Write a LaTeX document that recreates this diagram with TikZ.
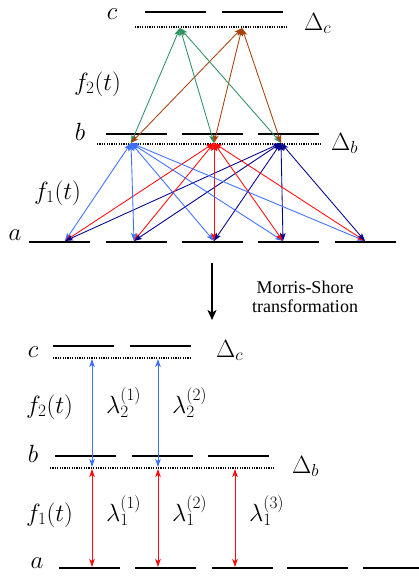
\documentclass[tikz,border=0pt]{standalone}
\usepackage{fontspec}
\newfontfamily\tms{Liberation Serif}
\usetikzlibrary{arrows.meta}
\definecolor{lblue}{RGB}{60,110,255}
\definecolor{mred}{RGB}{255,10,10}
\definecolor{mnavy}{RGB}{0,0,140}
\definecolor{mgreen}{RGB}{46,145,95}
\definecolor{mbrown}{RGB}{165,65,10}
\begin{document}
\begin{tikzpicture}[x=1pt,y=-1pt,
  level/.style={line width=1.6pt},
  dotlev/.style={line width=1.2pt,dash pattern=on 1.2pt off 1.2pt},
  trans/.style={line width=0.85pt,{Stealth[length=8pt,width=5.5pt,inset=2pt]}-{Stealth[length=8pt,width=5.5pt,inset=2pt]}},
  lab/.style={inner sep=0pt,font=\fontsize{26}{28}\selectfont},
  small/.style={inner sep=0pt,font=\tms\fontsize{18}{20}\selectfont,align=center}]
\useasboundingbox (0,0) rectangle (419,576);
% ---------- top: levels
\draw[level] (145,12) -- (206,12);
\draw[level] (222,12) -- (283,12);
\draw[dotlev] (135,27) -- (287,27);
\draw[level] (106,134) -- (167,134);
\draw[level] (182,134) -- (243,134);
\draw[level] (258,134) -- (319,134);
\draw[dotlev] (97,144) -- (322,144);
\foreach \x in {29,106,182,258,335} \draw[level] (\x,242) -- (\x+61,242);
% ---------- top: labels
\node[lab,anchor=base] (lc) at (112,19) {$c$};
\node[lab,anchor=base west] (ldc) at (304,30) {$\Delta_c$};
\node[lab,anchor=base west] (lf2) at (74,90) {$f_2(t)$};
\node[lab,anchor=base] (lb) at (80,140) {$b$};
\node[lab,anchor=base west] (ldb) at (331,150) {$\Delta_b$};
\node[lab,anchor=base west] (lf1) at (34,199) {$f_1(t)$};
\node[lab,anchor=base] (la) at (15,240) {$a$};
% ---------- top: coordinates
\coordinate (C1) at (180,28);
\coordinate (C2) at (242,28);
\coordinate (B1) at (131,143);
\coordinate (B2) at (214,143);
\coordinate (B3) at (281,143);
\coordinate (A1) at (65,241);
\coordinate (A2) at (134,241);
\coordinate (A3) at (214,241);
\coordinate (A4) at (283,241);
\coordinate (A5) at (365,241);
% ---------- top: arrows
\foreach \b in {B1,B2,B3} {
  \draw[trans,mgreen] (C1) -- (\b);
  \draw[trans,mbrown] (C2) -- (\b);
}
\foreach \a in {A1,A2,A3,A4,A5} {
  \draw[trans,lblue] (B1) -- (\a);
  \draw[trans,mred] (B2) -- (\a);
  \draw[trans,mnavy] (B3) -- (\a);
}
% ---------- middle
\coordinate (M1) at (212,263);
\coordinate (M2) at (212,320);
\draw[line width=1.5pt,-{Stealth[length=10pt,width=9pt,inset=2.5pt]}] (M1) -- (M2);
\node[small] (ms) at (305,297) {Morris-Shore\\[-1pt]transformation};
% ---------- bottom: levels
\draw[level] (53,346) -- (114,346);
\draw[level] (130,346) -- (191,346);
\draw[dotlev] (53,358) -- (191,358);
\draw[level] (55,456) -- (116,456);
\draw[level] (132,456) -- (193,456);
\draw[level] (208,456) -- (269,456);
\draw[dotlev] (50,468) -- (275,468);
\foreach \x in {59,135,212,287} \draw[level] (\x,568) -- (\x+61,568);
\draw[level] (363,568) -- (419,568);
% ---------- bottom: labels
\node[lab,anchor=base] (lc2) at (33,357) {$c$};
\node[lab,anchor=base west] (ldc2) at (216,357) {$\Delta_c$};
\node[lab,anchor=base west] (lf22) at (26,413) {$f_2(t)$};
\node[lab,anchor=base west] (l21) at (106,413) {$\lambda_2^{(1)}$};
\node[lab,anchor=base west] (l22) at (172,413) {$\lambda_2^{(2)}$};
\node[lab,anchor=base] (lb2) at (33,462) {$b$};
\node[lab,anchor=base west] (ldb2) at (292,473) {$\Delta_b$};
\node[lab,anchor=base west] (lf12) at (26,521) {$f_1(t)$};
\node[lab,anchor=base west] (l11) at (106,521) {$\lambda_1^{(1)}$};
\node[lab,anchor=base west] (l12) at (172,521) {$\lambda_1^{(2)}$};
\node[lab,anchor=base west] (l13) at (249,521) {$\lambda_1^{(3)}$};
\node[lab,anchor=base] (la2) at (37,568) {$a$};
% ---------- bottom: coordinates and arrows
\coordinate (c1) at (92,359);
\coordinate (c2) at (158,359);
\coordinate (b1u) at (92,467);
\coordinate (b2u) at (158,467);
\coordinate (b1d) at (92,469);
\coordinate (b2d) at (158,469);
\coordinate (b3d) at (235,469);
\coordinate (a1) at (92,567);
\coordinate (a2) at (158,567);
\coordinate (a3) at (235,567);
\draw[trans,lblue] (c1) -- (b1u);
\draw[trans,lblue] (c2) -- (b2u);
\draw[trans,mred] (b1d) -- (a1);
\draw[trans,mred] (b2d) -- (a2);
\draw[trans,mred] (b3d) -- (a3);
\end{tikzpicture}
\end{document}
